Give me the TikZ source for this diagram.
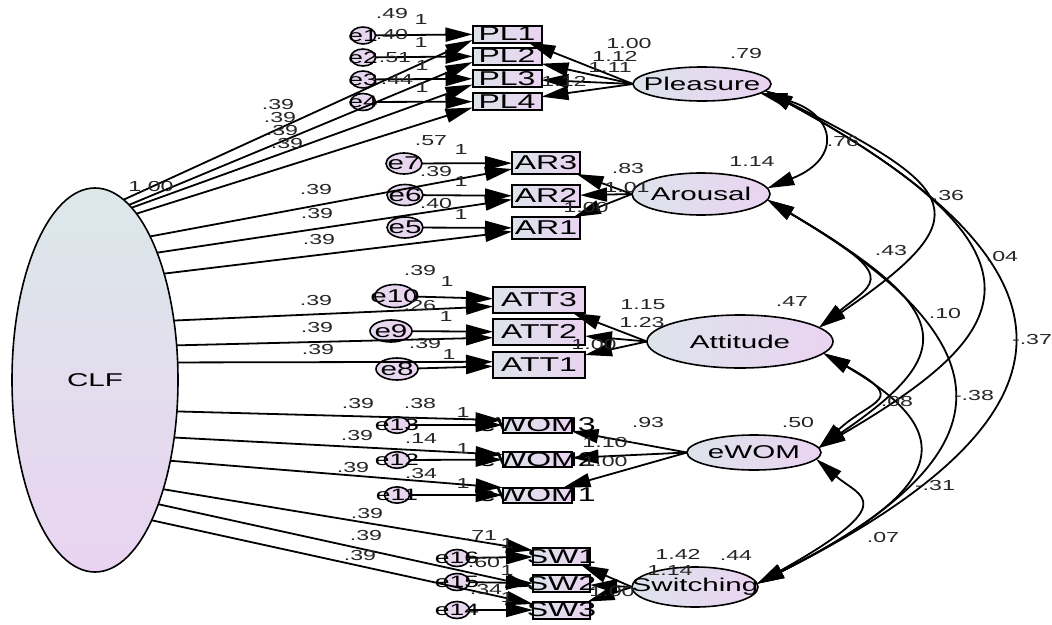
\documentclass[tikz,border=0pt]{standalone}
\usepackage{fontspec}
\newfontfamily\amos{Liberation Sans}[FakeStretch=1.6]
\usetikzlibrary{arrows.meta,shapes.geometric}
\definecolor{shl}{HTML}{DDE3EB}
\definecolor{shr}{HTML}{EAD3F1}
\definecolor{clft}{HTML}{DCE8E9}
\definecolor{clfb}{HTML}{E9D3F1}
\newcommand{\mkz}[1]{\makebox[0pt]{#1}}
\begin{document}
\begin{tikzpicture}[x=1pt,y=-1pt,
  every node/.style={font=\amos},
  box/.style={rectangle, draw=black, line width=2pt, left color=shl, right color=shr, inner sep=0pt, outer sep=0pt, font=\amos\fontsize{20}{20}\selectfont},
  lat/.style={ellipse, draw=black, line width=1.6pt, left color=shl, right color=shr, inner sep=0pt, outer sep=0pt, font=\amos\fontsize{18.5}{18.5}\selectfont},
  errs/.style={ellipse, draw=black, line width=1.6pt, left color=shl!40!shr, right color=shr, inner sep=0pt, outer sep=0pt, minimum width=25pt, minimum height=17pt, font=\amos\fontsize{16.5}{16.5}\selectfont},
  errb/.style={errs, minimum width=36pt, minimum height=21pt, font=\amos\fontsize{18.5}{18.5}\selectfont},
  num/.style={inner sep=0pt, font=\amos\fontsize{14.5}{15}\selectfont, text=black!85},
  onehead/.style={line width=1.8pt, -{Triangle[length=27pt,width=14pt]}},
  twohead/.style={line width=1.8pt, {Triangle[length=27pt,width=14pt]}-{Triangle[length=27pt,width=14pt]}},
]
\useasboundingbox (0,0) rectangle (1052,624);
\fill[white] (0,0) rectangle (1052,624);

% ---------- latent variables
\node[ellipse, draw=black, line width=1.6pt, top color=clft, bottom color=clfb, inner sep=0pt, outer sep=0pt, minimum width=166pt, minimum height=384pt, font=\amos\fontsize{18.5}{18.5}\selectfont] (CLF) at (95,380) {\mkz{CLF}};
\node[lat, minimum width=138pt, minimum height=34pt] (P) at (702,84) {\mkz{Pleasure}};
\node[lat, minimum width=138pt, minimum height=42pt] (Ar) at (701,194) {\mkz{Arousal}};
\node[lat, minimum width=186pt, minimum height=53pt] (Att) at (740,341.5) {\mkz{Attitude}};
\node[lat, minimum width=134pt, minimum height=35pt] (W) at (754,452.5) {\mkz{eWOM}};
\node[lat, minimum width=126pt, minimum height=40pt] (Sw) at (695,587) {\mkz{Switching}};

% ---------- observed variables
\node[box, minimum width=69pt, minimum height=17pt] (PL1) at (507,34) {\mkz{PL1}};
\node[box, minimum width=69pt, minimum height=17pt] (PL2) at (507,56) {\mkz{PL2}};
\node[box, minimum width=69pt, minimum height=17pt] (PL3) at (507,78.5) {\mkz{PL3}};
\node[box, minimum width=69pt, minimum height=17pt] (PL4) at (507,101.5) {\mkz{PL4}};
\node[box, minimum width=68pt, minimum height=22pt] (AR3) at (546,163) {\mkz{AR3}};
\node[box, minimum width=68pt, minimum height=22pt] (AR2) at (546,196) {\mkz{AR2}};
\node[box, minimum width=68pt, minimum height=22pt] (AR1) at (546,228) {\mkz{AR1}};
\node[box, minimum width=92pt, minimum height=26pt] (ATT3) at (539,300) {\mkz{ATT3}};
\node[box, minimum width=92pt, minimum height=26pt] (ATT2) at (539,332) {\mkz{ATT2}};
\node[box, minimum width=92pt, minimum height=26pt] (ATT1) at (539,365) {\mkz{ATT1}};
\node[box, minimum width=69pt, minimum height=15pt] (W3) at (537,425) {\mkz{eWOM3}};
\node[box, minimum width=69pt, minimum height=15pt] (W2) at (537,459.5) {\mkz{eWOM2}};
\node[box, minimum width=69pt, minimum height=15pt] (W1) at (537,495) {\mkz{eWOM1}};
\node[box, minimum width=57pt, minimum height=17pt] (SW1) at (561.5,556.5) {\mkz{SW1}};
\node[box, minimum width=57pt, minimum height=17pt] (SW2) at (561.5,583.5) {\mkz{SW2}};
\node[box, minimum width=57pt, minimum height=17pt] (SW3) at (561.5,610) {\mkz{SW3}};

% ---------- error terms
\node[errs] (e1) at (363,35.5) {\mkz{e1}};
\node[errs] (e2) at (363,57.5) {\mkz{e2}};
\node[errs] (e3) at (363,79.5) {\mkz{e3}};
\node[errs] (e4) at (363,102) {\mkz{e4}};
\node[errb] (e7) at (404,163.5) {\mkz{e7}};
\node[errb] (e6) at (405,195) {\mkz{e6}};
\node[errb] (e5) at (405,227.5) {\mkz{e5}};
\node[errb, minimum width=40pt, minimum height=23pt] (e10) at (395,296) {\mkz{e10}};
\node[errb, minimum width=42pt, minimum height=22pt] (e9) at (391,331) {\mkz{e9}};
\node[errb, minimum width=42pt, minimum height=22pt] (e8) at (397,369) {\mkz{e8}};
\node[errs, minimum height=16pt] (e13) at (397,425) {\mkz{e13}};
\node[errs, minimum height=16pt] (e12) at (397,460) {\mkz{e12}};
\node[errs, minimum height=16pt] (e11) at (397,495) {\mkz{e11}};
\node[errs] (e16) at (457,558) {\mkz{e16}};
\node[errs] (e15) at (457,582) {\mkz{e15}};
\node[errs] (e14) at (457,610) {\mkz{e14}};

% ---------- regression paths
\foreach \b in {PL1,PL2,PL3,PL4} \draw[onehead] (P.west) -- (\b);
\foreach \b in {AR3,AR2,AR1} \draw[onehead] (Ar.west) -- (\b);
\foreach \b in {ATT3,ATT2,ATT1} \draw[onehead] (Att.west) -- (\b);
\foreach \b in {W3,W2,W1} \draw[onehead] (W.west) -- (\b);
\foreach \b in {SW1,SW2,SW3} \draw[onehead] (Sw.west) -- (\b);

\draw[onehead] (e1) -- (PL1);
\draw[onehead] (e2) -- (PL2);
\draw[onehead] (e3) -- (PL3);
\draw[onehead] (e4) -- (PL4);
\draw[onehead] (e7) -- (AR3);
\draw[onehead] (e6) -- (AR2);
\draw[onehead] (e5) -- (AR1);
\draw[onehead] (e10) -- (ATT3);
\draw[onehead] (e9) -- (ATT2);
\draw[onehead] (e8) -- (ATT1);
\draw[onehead] (e13) -- (W3);
\draw[onehead] (e12) -- (W2);
\draw[onehead] (e11) -- (W1);
\draw[onehead] (e16) -- (SW1);
\draw[onehead] (e15) -- (SW2);
\draw[onehead] (e14) -- (SW3);

\draw[onehead] (CLF.81) -- (PL1.190);
\draw[onehead] (CLF.79.5) -- (PL2.190);
\draw[onehead] (CLF.78) -- (PL3.190);
\draw[onehead] (CLF.76) -- (PL4.190);
\draw[onehead] (CLF.69) -- (AR3.190);
\draw[onehead] (CLF.64) -- (AR2.186);
\draw[onehead] (CLF.57) -- (AR1.186);
\draw[onehead] (CLF.37) -- (ATT3.188);
\draw[onehead] (CLF.23) -- (ATT2.187);
\draw[onehead] (CLF.12) -- (ATT1.176);
\draw[onehead] (CLF.-21) -- (W3.172);
\draw[onehead] (CLF.-36) -- (W2.172);
\draw[onehead] (CLF.-47) -- (W1.168);
\draw[onehead] (CLF.-58) -- (SW1.168);
\draw[onehead] (CLF.-63) -- (SW2.186);
\draw[onehead] (CLF.-68) -- (SW3.168);

% ---------- covariances
\draw[twohead] (P.-9) .. controls +(76,20) and +(76,-30) .. (Ar.5);
\draw[twohead] (P.-6) .. controls +(195,99) and +(165,-113) .. (Att.10);
\draw[twohead] (P.-6) .. controls +(307,168) and +(191,-112) .. (W.4);
\draw[twohead] (P.-6) .. controls +(325,177) and +(340,-171) .. (Sw.3);
\draw[twohead] (Ar.-5) .. controls +(133,78) and +(58,-47) .. (Att.10);
\draw[twohead] (Ar.-5) .. controls +(186,110) and +(143,-97) .. (W.4);
\draw[twohead] (Ar.-5) .. controls +(247,146) and +(255,-129) .. (Sw.3);
\draw[twohead] (Att.-8) .. controls +(86,48) and +(54,-50) .. (W.4);
\draw[twohead] (Att.-8) .. controls +(147,85) and +(179,-91) .. (Sw.3);
\draw[twohead] (W.-6) .. controls +(44,38) and +(146,-82) .. (Sw.3);

% ---------- estimates
\node[num] (t1) at (392,14) {.49};
\node[num] (t2) at (421,20) {1};
\node[num] (t3) at (392,35) {.40};
\node[num] (t4) at (421,43) {1};
\node[num] (t5) at (395,58) {.51};
\node[num] (t6) at (422,66) {1};
\node[num] (t7) at (397,80) {.44};
\node[num] (t8) at (422,88) {1};
\node[num] (t9) at (629,44) {1.00};
\node[num] (t10) at (615,56) {1.12};
\node[num] (t11) at (610,68) {1.11};
\node[num] (t12) at (564,81) {1.12};
\node[num] (t13) at (746,54) {.79};
\node[num] (t14) at (278,105) {.39};
\node[num] (t15) at (280,118) {.39};
\node[num] (t16) at (282,131) {.39};
\node[num] (t17) at (287,144) {.39};
\node[num] (t18) at (151,187) {1.00};

\node[num] (t19) at (431,141) {.57};
\node[num] (t20) at (461,150) {1};
\node[num] (t21) at (436,172) {.39};
\node[num] (t22) at (461,182) {1};
\node[num] (t23) at (436,204) {.40};
\node[num] (t24) at (461,215) {1};
\node[num] (t25) at (628,169) {.83};
\node[num] (t26) at (627,188) {1.01};
\node[num] (t27) at (586,208) {1.00};
\node[num] (t28) at (752,162) {1.14};
\node[num] (t29) at (316,190) {.39};
\node[num] (t30) at (317,214) {.39};
\node[num] (t31) at (319,240) {.39};

\node[num] (t32) at (420,271) {.39};
\node[num] (t33) at (447,282) {1};
\node[num] (t34) at (420,306) {.26};
\node[num] (t35) at (446,317) {1};
\node[num] (t36) at (425,344) {.39};
\node[num] (t37) at (449,355) {1};
\node[num] (t38) at (643,305) {1.15};
\node[num] (t39) at (642,323) {1.23};
\node[num] (t40) at (594,345) {1.00};
\node[num] (t41) at (792,302) {.47};
\node[num] (t42) at (316,301) {.39};
\node[num] (t43) at (317,328) {.39};
\node[num] (t44) at (318,350) {.39};

\node[num] (t45) at (358,404) {.39};
\node[num] (t46) at (420,404) {.38};
\node[num] (t47) at (463,413) {1};
\node[num] (t48) at (357,436) {.39};
\node[num] (t49) at (421,439) {.14};
\node[num] (t50) at (463,449) {1};
\node[num] (t51) at (353,468) {.39};
\node[num] (t52) at (421,474) {.34};
\node[num] (t53) at (463,484) {1};
\node[num] (t54) at (648,423) {.93};
\node[num] (t55) at (605,443) {1.10};
\node[num] (t56) at (605,462) {1.00};
\node[num] (t57) at (798,423) {.50};

\node[num] (t58) at (367,514) {.39};
\node[num] (t59) at (366,536) {.39};
\node[num] (t60) at (360,556) {.39};
\node[num] (t61) at (481,536) {.71};
\node[num] (t62) at (507,544) {1};
\node[num] (t63) at (484,563) {.60};
\node[num] (t64) at (507,571) {1};
\node[num] (t65) at (486,589) {.34};
\node[num] (t66) at (507,598) {1};
\node[num] (t67) at (678,554) {1.42};
\node[num] (t68) at (670,571) {1.14};
\node[num] (t69) at (612,591) {1.00};
\node[num] (t70) at (736,556) {.44};

\node[num] (t71) at (843,142) {.76};
\node[num] (t72) at (948,196) {.36};
\node[num] (t73) at (1002,257) {.04};
\node[num] (t74) at (1032,340) {-.37};
\node[num] (t75) at (891,251) {.43};
\node[num] (t76) at (945,314) {.10};
\node[num] (t77) at (974,396) {-.38};
\node[num] (t78) at (897,402) {.08};
\node[num] (t79) at (935,486) {-.31};
\node[num] (t80) at (883,538) {.07};
\end{tikzpicture}
\end{document}
